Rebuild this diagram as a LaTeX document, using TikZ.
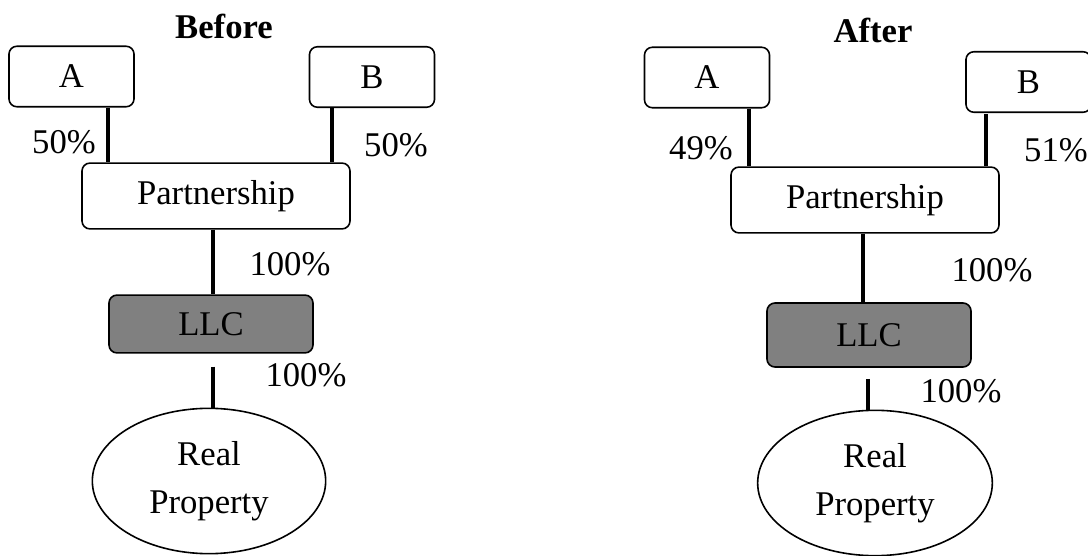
\documentclass[tikz,border=0pt]{standalone}
\usepackage{fontspec}
\setmainfont{Liberation Serif}
\usetikzlibrary{calc, shapes}

\tikzset{
  party/.style={draw, rounded corners=3pt, line width=0.6pt, inner sep=0pt, minimum width=46.9pt, minimum height=22.7pt},
  holder/.style={party, minimum width=100.5pt, minimum height=24.7pt},
  llcbox/.style={party, fill=black!50, minimum width=76.5pt},
  asset/.style={draw, ellipse, line width=0.6pt, inner sep=0pt, align=center, minimum width=87.5pt, minimum height=54.5pt, font=\fontsize{13}{18}\selectfont},
  share/.style={line width=1.5pt},
  pct/.style={inner sep=0pt}
}

\begin{document}
\begin{tikzpicture}[x=0.375pt, y=-0.375pt, font=\fontsize{13}{15}\selectfont]
  \useasboundingbox (0,0) rectangle (1088,556);
  \clip (0,0) rectangle (1088,556);

  % before
  \node[font=\fontsize{13}{15}\selectfont\bfseries] (t1) at (224,26) {Before};
  \node[party] (a1) at (71.5,76.5) {A};
  \node[party] (b1) at (372,77) {B};
  \node[holder] (p1) at (216,196) {Partnership};
  \node[llcbox, minimum height=21.7pt] (l1) at (211,324) {LLC};
  \node[asset] (r1) at (209,481) {Real\\Property};
  \draw[share] (a1.south -| 108,0) -- (p1.north -| 108,0);
  \draw[share] (b1.south -| 332,0) -- (p1.north -| 332,0);
  \draw[share] (p1.south -| 213,0) -- (l1.north -| 213,0);
  \draw[share] ($(l1.south -| 213,0)+(0,13)$) -- (r1.north -| 213,0);
  \node[pct] (s1a) at (64,142) {50\%};
  \node[pct] (s1b) at (396,145) {50\%};
  \node[pct] (s1p) at (290,264) {100\%};
  \node[pct] (s1l) at (306,375) {100\%};

  % after
  \node[font=\fontsize{13}{15}\selectfont\bfseries] (t2) at (873,30) {After};
  \node[party] (a2) at (707,77.5) {A};
  \node[party] (b2) at (1028.5,82) {B};
  \node[holder] (p2) at (865,200) {Partnership};
  \node[llcbox, minimum height=24pt] (l2) at (869,335) {LLC};
  \node[asset, minimum width=88pt] (r2) at (875,483) {Real\\Property};
  \draw[share] (a2.south -| 749,0) -- (p2.north -| 749,0);
  \draw[share] ($(b2.south -| 986,0)+(0,1)$) -- (p2.north -| 986,0);
  \draw[share] (p2.south -| 863,0) -- (l2.north -| 863,0);
  \draw[share] ($(l2.south -| 868,0)+(0,11)$) -- (r2.north -| 868,0);
  \node[pct] (s2a) at (701,148) {49\%};
  \node[pct] (s2b) at (1056,150) {51\%};
  \node[pct] (s2p) at (992,270) {100\%};
  \node[pct] (s2l) at (961,391) {100\%};
\end{tikzpicture}
\end{document}
